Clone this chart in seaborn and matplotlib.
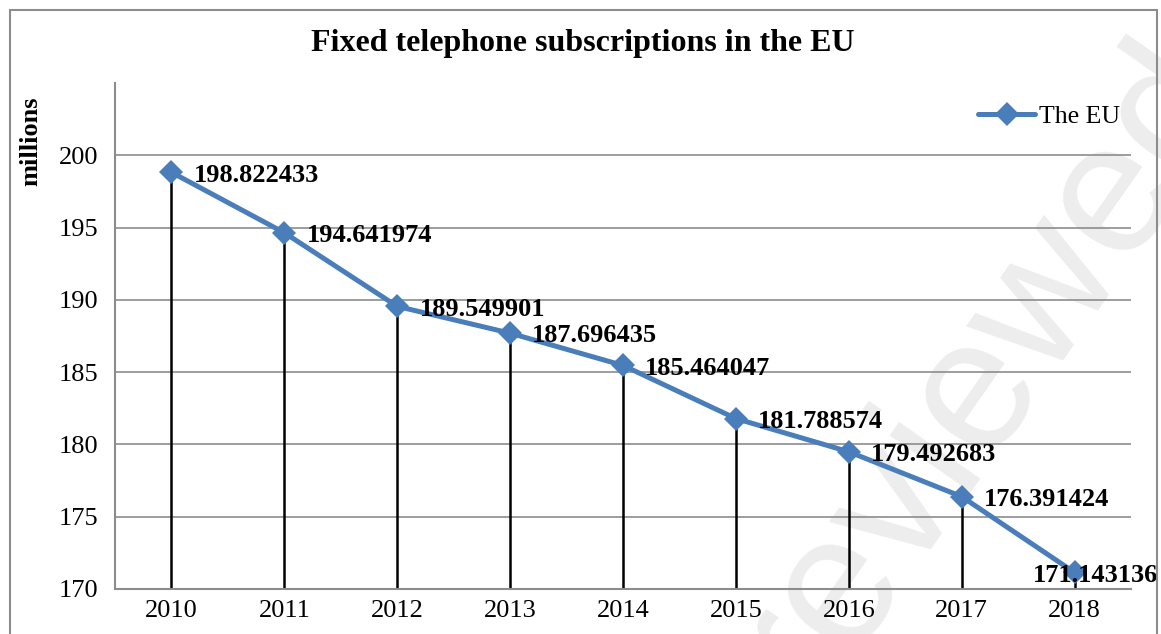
import matplotlib
matplotlib.use("Agg")
import matplotlib.pyplot as plt
import seaborn as sns
import pandas as pd
import numpy as np
from matplotlib.patches import Rectangle

years = ["2010", "2011", "2012", "2013", "2014", "2015", "2016", "2017", "2018"]
values = [198.822433, 194.641974, 189.549901, 187.696435, 185.464047,
          181.788574, 179.492683, 176.391424, 171.143136]
labels = ["198.822433", "194.641974", "189.549901", "187.696435", "185.464047",
          "181.788574", "179.492683", "176.391424", "171.143136"]
y_ticks = [170, 175, 180, 185, 190, 195, 200]

sns.set_theme(style="white")
plt.rcParams['font.family'] = ['Liberation Serif', 'DejaVu Serif']
plt.rcParams['text.color'] = 'black'
plt.rcParams['xtick.color'] = 'black'
plt.rcParams['ytick.color'] = 'black'

W, H = 1161, 634
fig = plt.figure(figsize=(W / 100, H / 100), dpi=100)
ax = fig.add_axes([115 / W, 1 - 589 / H, (1131 - 115) / W, (589 - 83) / H])
ax.patch.set_alpha(0)

# figure border
fig.patches.append(Rectangle((10 / W, -0.05), (1157 - 10) / W, 1 - 10 / H + 0.05,
                             transform=fig.transFigure, fill=False,
                             edgecolor="#8c8c8c", linewidth=1.5, zorder=0))

# faint watermark (partly outside the frame, as in the reference)
fig.text(985 / W, 1 - 370 / H, "reviewed", rotation=55, fontsize=135,
         color="#ededed", ha="center", va="center", family="Liberation Sans",
         zorder=-1, rotation_mode="anchor")

df = pd.DataFrame({"pos": np.arange(len(years)), "value": values, "series": "The EU"})

ax.vlines(df["pos"], 170, df["value"], color="black", linewidth=1.8, zorder=2)
sns.lineplot(data=df, x="pos", y="value", hue="series", palette=["#4a7ebb"],
             marker="D", markersize=12, markeredgewidth=0, linewidth=3.6,
             ax=ax, zorder=3)

ax.set_xlim(-0.5, len(years) - 0.5)
ax.set_ylim(170, 205)
ax.set_yticks(y_ticks)
ax.set_yticklabels([str(t) for t in y_ticks], fontsize=19)
ax.set_xticks(df["pos"])
ax.set_xticklabels(years, fontsize=19)
ax.tick_params(axis="y", length=0, pad=12)
ax.tick_params(axis="x", length=0, pad=8)
for t in y_ticks[1:]:
    ax.axhline(t, color="#8c8c8c", linewidth=1.2, zorder=1)
for s in ["top", "right"]:
    ax.spines[s].set_visible(False)
for s in ["left", "bottom"]:
    ax.spines[s].set_color("#8c8c8c")
    ax.spines[s].set_linewidth(1.5)
ax.set_xlabel("")
ax.set_ylabel("")

for i, (v, lab) in enumerate(zip(values, labels)):
    if i == len(values) - 1:
        ax.annotate(lab, (i, v), xytext=(15, -2), textcoords="offset points",
                    ha="center", va="center", fontsize=19, fontweight="bold", zorder=4)
    else:
        ax.annotate(lab, (i, v), xytext=(16, -2), textcoords="offset points",
                    ha="left", va="center", fontsize=19, fontweight="bold", zorder=4)

leg = ax.legend(loc="center right", bbox_to_anchor=((1120 - 115) / (1131 - 115),
                                                       (589 - 117) / (589 - 83)),
                frameon=False, fontsize=18.5, handlelength=2.2, handletextpad=0.15,
                borderpad=0, borderaxespad=0)

fig.text(583 / W, 1 - 43 / H, "Fixed telephone subscriptions in the EU",
         ha="center", va="center", fontsize=23, fontweight="bold")
fig.text(31 / W, 1 - 141 / H, "millions", rotation=90, ha="center", va="center",
         fontsize=19, fontweight="bold")

fig.savefig("out.png", dpi=100)
